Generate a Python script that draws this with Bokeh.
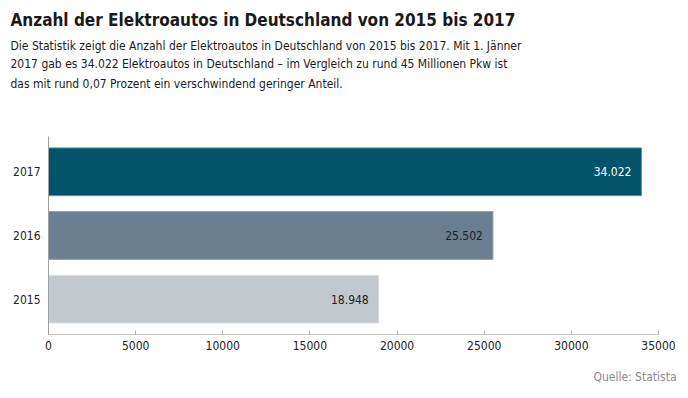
from bokeh.plotting import figure
from bokeh.models import ColumnDataSource, FactorRange, Title, FixedTicker
from bokeh.embed import file_html
from bokeh.resources import INLINE

years = ["2015", "2016", "2017"]
values = [18948, 25502, 34022]
bar_colors = ["#c2c8ce", "#6a7f91", "#02526a"]
edge_colors = ["#dde1e4", "#8fa0ae", "#5d97a6"]
label_colors = ["#222222", "#222222", "#ffffff"]
x_ticks = [0, 5000, 10000, 15000, 20000, 25000, 30000, 35000]

title_text = "Anzahl der Elektroautos in Deutschland von 2015 bis 2017"
sub_lines = [
    "Die Statistik zeigt die Anzahl der Elektroautos in Deutschland von 2015 bis 2017. Mit 1. Jänner",
    "2017 gab es 34.022 Elektroautos in Deutschland – im Vergleich zu rund 45 Millionen Pkw ist",
    "das mit rund 0,07 Prozent ein verschwindend geringer Anteil.",
]
source_text = "Quelle: Statista"

labels = [f"{v:,}".replace(",", ".") for v in values]
src = ColumnDataSource(dict(year=years, value=values, color=bar_colors,
                            edge=edge_colors, label=labels, lcolor=label_colors))

FONT = "DejaVu Sans Condensed, Roboto"

p = figure(width=688, height=398, output_backend="svg", toolbar_location=None,
           y_range=FactorRange(factors=years, range_padding=0.036),
           x_range=(0, 35000), min_border_left=48, min_border_right=30,
           min_border_top=0, min_border_bottom=0)
p.title.visible = False

p.hbar(y="year", right="value", left=0, height=0.75, fill_color="color",
       line_color="edge", line_width=1, source=src)
p.text(x="value", y="year", text="label", text_color="lcolor", text_align="right",
       text_baseline="middle", x_offset=-10, text_font_size="12px",
       text_font={"value": FONT}, source=src)

p.xgrid.visible = False
p.ygrid.visible = False
p.outline_line_color = None
p.background_fill_color = "white"

xa = p.xaxis[0]
xa.ticker = FixedTicker(ticks=x_ticks)
xa.axis_line_color = "#c8c8c8"
xa.major_tick_line_color = "#b0b0b0"
xa.major_tick_in = 4
xa.major_tick_out = 0
xa.minor_tick_line_color = None
xa.major_label_text_font = FONT
xa.major_label_text_font_size = "12px"
xa.major_label_text_color = "#222222"
xa.major_label_standoff = 6

ya = p.yaxis[0]
ya.axis_line_color = "#a0a0a0"
ya.major_tick_line_color = None
ya.major_tick_out = 0
ya.major_tick_in = 0
ya.minor_tick_line_color = None
ya.major_label_text_font = FONT
ya.major_label_text_font_size = "12px"
ya.major_label_text_color = "#222222"
ya.major_label_standoff = 8

p.add_layout(Title(text=source_text, align="right", text_font=FONT, text_font_size="12px",
                   text_font_style="normal", text_color="#8a8a8a", offset=-18,
                   standoff=30), "below")

# spacer between text block and plot frame
p.add_layout(Title(text=" ", text_font_size="12px", standoff=28), "above")
p.add_layout(Title(text=sub_lines[2], text_font=FONT, text_font_size="12px",
                   text_font_style="normal", text_color="#1a1a1a", standoff=4, offset=-38), "above")
p.add_layout(Title(text=sub_lines[1], text_font=FONT, text_font_size="12px",
                   text_font_style="normal", text_color="#1a1a1a", standoff=4, offset=-38), "above")
p.add_layout(Title(text=sub_lines[0], text_font=FONT, text_font_size="12px",
                   text_font_style="normal", text_color="#1a1a1a", standoff=0, offset=-38), "above")
p.add_layout(Title(text=title_text, text_font=FONT, text_font_size="17px",
                   text_font_style="bold", text_color="#1a1a1a", standoff=14, offset=-38), "above")

open("out.html", "w").write(file_html(p, INLINE))
